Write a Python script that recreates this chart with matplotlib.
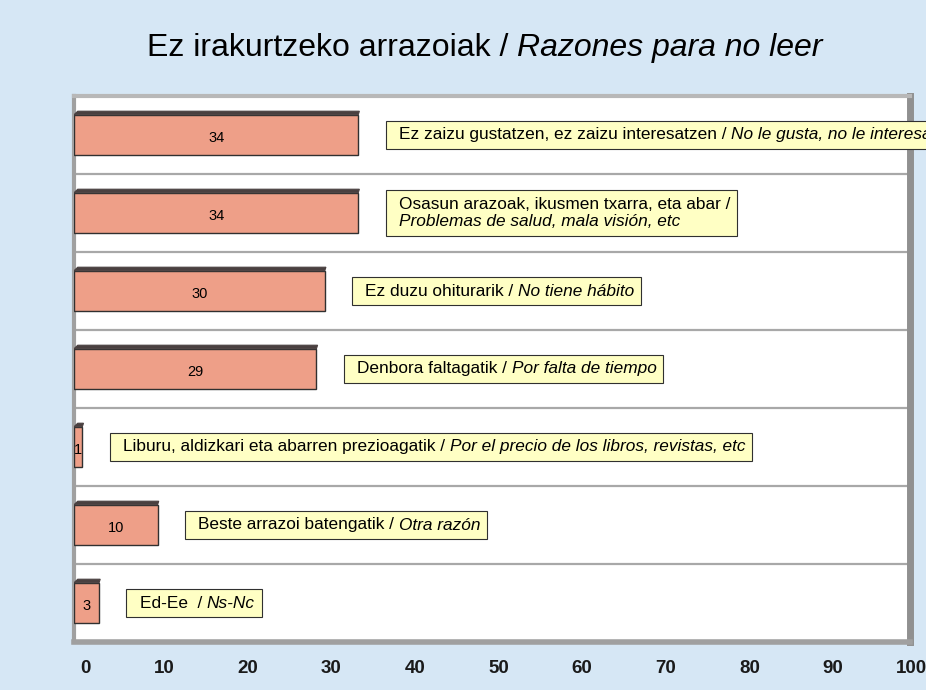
import matplotlib
matplotlib.use("Agg")
import matplotlib.pyplot as plt
import matplotlib.transforms as mtransforms
from matplotlib.offsetbox import TextArea, HPacker, VPacker, AnnotationBbox, DrawingArea
from matplotlib.patches import Polygon
import numpy as np

plt.rcParams['font.family'] = ['Liberation Sans', 'DejaVu Sans']

# ---- data ----
values = [34, 34, 30, 29, 1, 10, 3]
labels_eu = ["Ez zaizu gustatzen, ez zaizu interesatzen / ",
             "Osasun arazoak, ikusmen txarra, eta abar /",
             "Ez duzu ohiturarik / ",
             "Denbora faltagatik / ",
             "Liburu, aldizkari eta abarren prezioagatik / ",
             "Beste arrazoi batengatik / ",
             "Ed-Ee  / "]
labels_es = ["No le gusta, no le interesa",
             "Problemas de salud, mala visión, etc",
             "No tiene hábito",
             "Por falta de tiempo",
             "Por el precio de los libros, revistas, etc",
             "Otra razón",
             "Ns-Nc"]
two_line = [False, True, False, False, False, False, False]
xticks = [0, 10, 20, 30, 40, 50, 60, 70, 80, 90, 100]

BG = '#d6e7f5'
BAR = '#ee9f88'
BOX = '#ffffc4'
LFS = 12.4

fig = plt.figure(figsize=(9.26, 6.9), dpi=100, facecolor=BG)
ax = fig.add_axes([74/926, 1-642/690, 836/926, (642-96)/690])
ax.set_facecolor('white')

n = len(values)
y = np.arange(n)
h = 0.52
ax.set_xlim(0, 100)
ax.set_ylim(n - 0.5, -0.5)

# grid lines between categories
for k in range(1, n):
    ax.axhline(k - 0.5, color='#a8a8a8', lw=1.6, zorder=1)

bars = ax.barh(y, values, height=h, color=BAR, edgecolor='#303030', lw=1.0, zorder=3)

# 3D top face
dx, dy = 0.45, 0.045
for yi, v in zip(y, values):
    top = yi - h / 2
    poly = Polygon([(0, top), (v, top), (v + dx * 0.3, top - dy), (dx, top - dy)],
                   closed=True, facecolor='#4a4040', edgecolor='#4a4040', lw=0.8, zorder=3)
    ax.add_patch(poly)
    ax.text(v / 2, yi + 0.04, str(v), ha='center', va='center', fontsize=10.5, zorder=4)

# label boxes
for yi, v, eu, es, tl in zip(y, values, labels_eu, labels_es, two_line):
    ta_eu = TextArea(eu, textprops=dict(fontsize=LFS, color='black'))
    ta_es = TextArea(es, textprops=dict(fontsize=LFS, color='black', style='italic'))
    if tl:
        inner = VPacker(children=[ta_eu, ta_es], align='left', pad=0, sep=1)
    else:
        inner = HPacker(children=[ta_eu, ta_es], align='baseline', pad=0, sep=0)
    spacer = DrawingArea(4.5, 1)
    pack = HPacker(children=[spacer, inner], align='center', pad=0, sep=0)
    ab = AnnotationBbox(pack, (v + 4.1, yi), xycoords='data', box_alignment=(0, 0.5),
                        frameon=True, pad=0.5, annotation_clip=False,
                        bboxprops=dict(facecolor=BOX, edgecolor='#303030', lw=0.8))
    ab.set_zorder(5)
    ax.add_artist(ab)

# frame
for s in ['left', 'bottom', 'top', 'right']:
    ax.spines[s].set_color('#a0a0a0')
ax.spines['left'].set_linewidth(3)
ax.spines['bottom'].set_linewidth(4)
ax.spines['top'].set_linewidth(3)
ax.spines['top'].set_color('#b8b8b8')
ax.spines['right'].set_linewidth(5)
ax.spines['right'].set_color('#909090')

ax.set_yticks([])
ax.set_xticks(xticks)
ax.set_xticklabels([str(t) for t in xticks], fontsize=13.5, fontweight='bold', color='#1a1a1a')
ax.tick_params(axis='x', length=0, pad=13)
offset = mtransforms.ScaledTranslation(17 / 100, 0, fig.dpi_scale_trans)
for lab in ax.get_xticklabels():
    lab.set_horizontalalignment('right')
    lab.set_transform(lab.get_transform() + offset)

# title
t1 = TextArea("Ez irakurtzeko arrazoiak / ", textprops=dict(fontsize=23))
t2 = TextArea("Razones para no leer", textprops=dict(fontsize=23, style='italic'))
tp = HPacker(children=[t1, t2], align='baseline', pad=0, sep=0)
tab = AnnotationBbox(tp, (485 / 926, 1 - 48 / 690), xycoords='figure fraction',
                     box_alignment=(0.5, 0.5), frameon=False)
fig.add_artist(tab)

fig.savefig('out.png', dpi=100, facecolor=BG)
